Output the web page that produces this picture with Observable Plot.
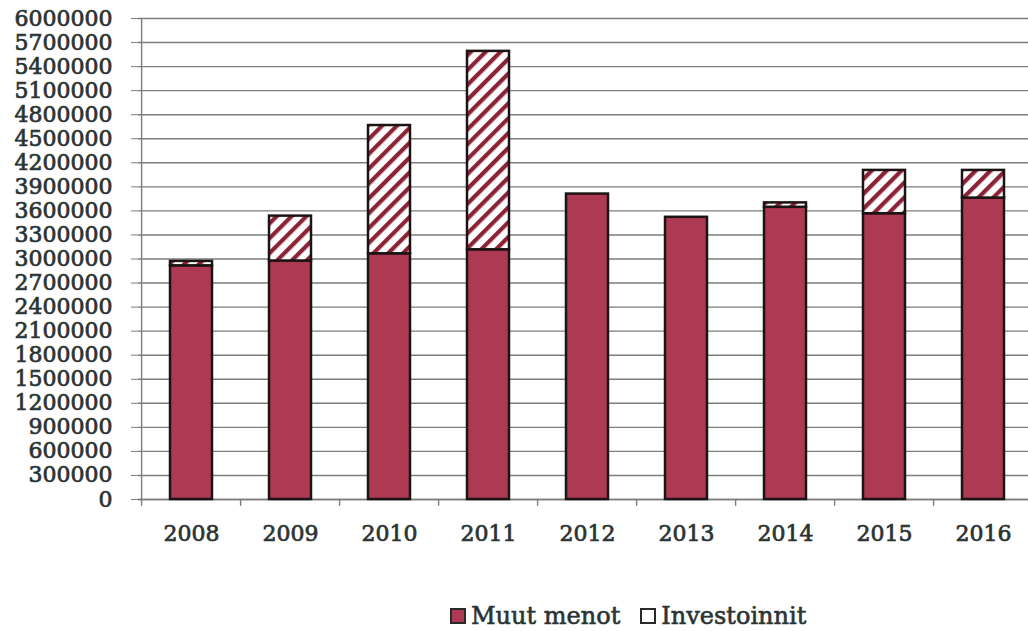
<!DOCTYPE html>
<html><head><meta charset="utf-8">
<script src="https://cdn.jsdelivr.net/npm/d3@7"></script>
<script src="https://cdn.jsdelivr.net/npm/@observablehq/plot@0.6"></script>
<style>
html,body{margin:0;padding:0;background:#fff;overflow:hidden;width:1028px;height:631px;}
#chart svg{display:block;}
#chart svg text{stroke:#2b3333;stroke-width:0.7px;paint-order:stroke;}
.legend{position:absolute;left:450px;top:602px;font-family:"DejaVu Serif";font-size:24px;color:#2b3333;-webkit-text-stroke:0.6px #2b3333;display:flex;align-items:center;white-space:nowrap;}
.sw{width:12px;height:12px;border:2px solid #2a2a2a;display:inline-block;margin-right:5px;}
</style></head><body>
<div id="chart"></div>
<div class="legend"><span class="sw" style="background:#ad3a52"></span>Muut menot<span style="display:inline-block;width:20px"></span><span class="sw" style="background:#fff"></span>Investoinnit</div>
<script>
const years = ["2008","2009","2010","2011","2012","2013","2014","2015","2016"];
const muutMenot   = [2915000, 2975000, 3065000, 3115000, 3810000, 3520000, 3645000, 3565000, 3760000];
const investoinnit = [55000, 560000, 1600000, 2475000, 0, 0, 55000, 540000, 345000];
const yTicks = [0,300000,600000,900000,1200000,1500000,1800000,2100000,2400000,2700000,3000000,3300000,3600000,3900000,4200000,4500000,4800000,5100000,5400000,5700000,6000000];

const rows = years.map((y, i) => ({year: y, muut: muutMenot[i], inv: investoinnit[i]}));
const gray = "#7d7d7d";
const txt = "#2b3333";

function hatchDefs() {
  const defs = d3.create("svg:defs");
  const p = defs.append("pattern").attr("id", "hatch").attr("patternUnits", "userSpaceOnUse")
    .attr("width", 10.5).attr("height", 10.5).attr("patternTransform", "rotate(45)");
  p.append("rect").attr("width", 10.5).attr("height", 10.5).attr("fill", "white");
  p.append("rect").attr("width", 4.2).attr("height", 10.5).attr("fill", "#8c2236");
  return defs.node();
}

const chart = Plot.plot({
  width: 1028, height: 545,
  marginLeft: 138, marginRight: 0, marginTop: 18, marginBottom: 46,
  style: {fontFamily: "'DejaVu Serif'", fontSize: "22px", color: txt, background: "white"},
  x: {type: "band", domain: years, range: [137.6, 1035.4], paddingInner: 0.58, paddingOuter: 0.29, label: null},
  y: {domain: [0, 6000000], label: null},
  marks: [
    hatchDefs,
    Plot.gridY(yTicks, {stroke: gray, strokeOpacity: 1, strokeWidth: 1.4}),
    Plot.ruleX([years[0]], {dx: -49.9, y1: 0, y2: 6000000, stroke: gray, strokeWidth: 1.4}),
    Plot.ruleY([0], {stroke: gray, strokeWidth: 1.4}),
    Plot.ruleX(years, {dx: -49.9, y1: 0, y2: -85000, stroke: gray, strokeWidth: 1.4}),
    Plot.axisY(yTicks, {tickSize: 7, tickPadding: 19, tickFormat: d => String(d), stroke: gray, fill: txt, fontSize: 22, label: null}),
    Plot.axisX({tickSize: 0, tickPadding: 26, fill: txt, fontSize: 22, label: null}),
    Plot.barY(rows, {x: "year", y: "muut", fill: "#ad3a52", stroke: "#1c1414", strokeWidth: 2.5}),
    Plot.barY(rows.filter(d => d.inv > 0), {x: "year", y1: "muut", y2: d => d.muut + d.inv, fill: "url(#hatch)", stroke: "#1c1414", strokeWidth: 2.5})
  ]
});
document.getElementById("chart").appendChild(chart);
</script>
</body></html>
